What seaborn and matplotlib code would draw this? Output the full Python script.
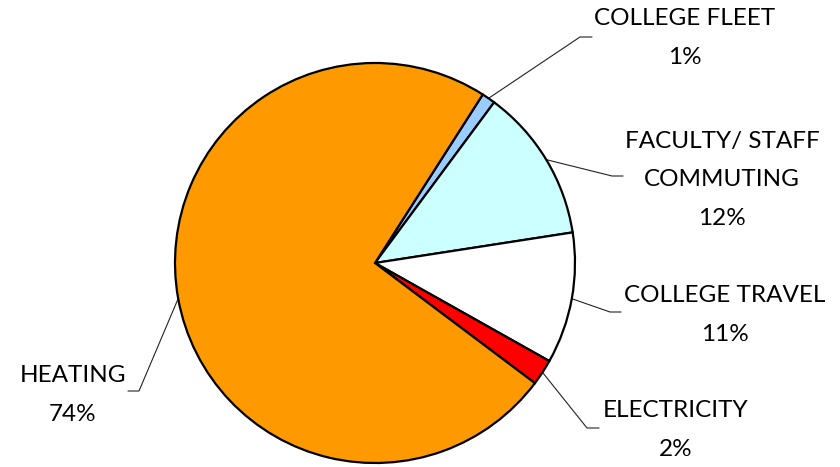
import numpy as np
import matplotlib
matplotlib.use("Agg")
import matplotlib.pyplot as plt
import seaborn as sns

categories = ["COLLEGE FLEET", "FACULTY/ STAFF\nCOMMUTING", "COLLEGE TRAVEL", "ELECTRICITY", "HEATING"]
values = [1.1, 12.4, 10.6, 2.1, 73.8]
colors = ["#99CCFF", "#CCFFFF", "#FFFFFF", "#FF0000", "#FF9900"]

sns.set_theme(style="white")
plt.rcParams['font.family'] = ['Lato', 'DejaVu Sans']

W, H = 840, 467
fig = plt.figure(figsize=(W / 100, H / 100), dpi=100)
ax = fig.add_axes([0, 0, 1, 1])
cx, cy, R = 375, 263, 200  # pixel layout of the pie

wedges, _ = ax.pie(values, colors=colors, startangle=57.4, counterclock=False,
                   radius=1.0, wedgeprops=dict(edgecolor="black", linewidth=1.6))

def px(x, y):
    return ((x - cx) / R, (cy - y) / R)

# layout: elbow point, end of horizontal, text center (pixel coords)
layout = [
    ((580, 37), (592, 37), (685, 38)),
    ((612, 176), (623, 176), (722, 180)),
    ((610, 312), (621, 312), (725, 315)),
    ((587, 428), (599, 428), (676, 430)),
    ((139, 391), (128, 391), (73, 395)),
]

total = sum(values)
for w, cat, v, (elb, end, tc) in zip(wedges, categories, values, layout):
    ang = np.deg2rad((w.theta1 + w.theta2) / 2)
    sx, sy = np.cos(ang), np.sin(ang)
    ex, ey = px(*elb)
    hx, hy = px(*end)
    ax.plot([sx, ex, hx], [sy, ey, hy], color="#222222", lw=0.8, zorder=0.5)
    tx, ty = px(*tc)
    ax.text(tx, ty, f"{cat}\n{round(v / total * 100)}%", ha="center", va="center",
            fontsize=17.5, color="black", linespacing=2.05)

ax.set_xlim(-cx / R, (W - cx) / R)
ax.set_ylim(-(H - cy) / R, cy / R)
ax.set_aspect("equal")
ax.axis("off")
fig.savefig("out.png", dpi=100)
